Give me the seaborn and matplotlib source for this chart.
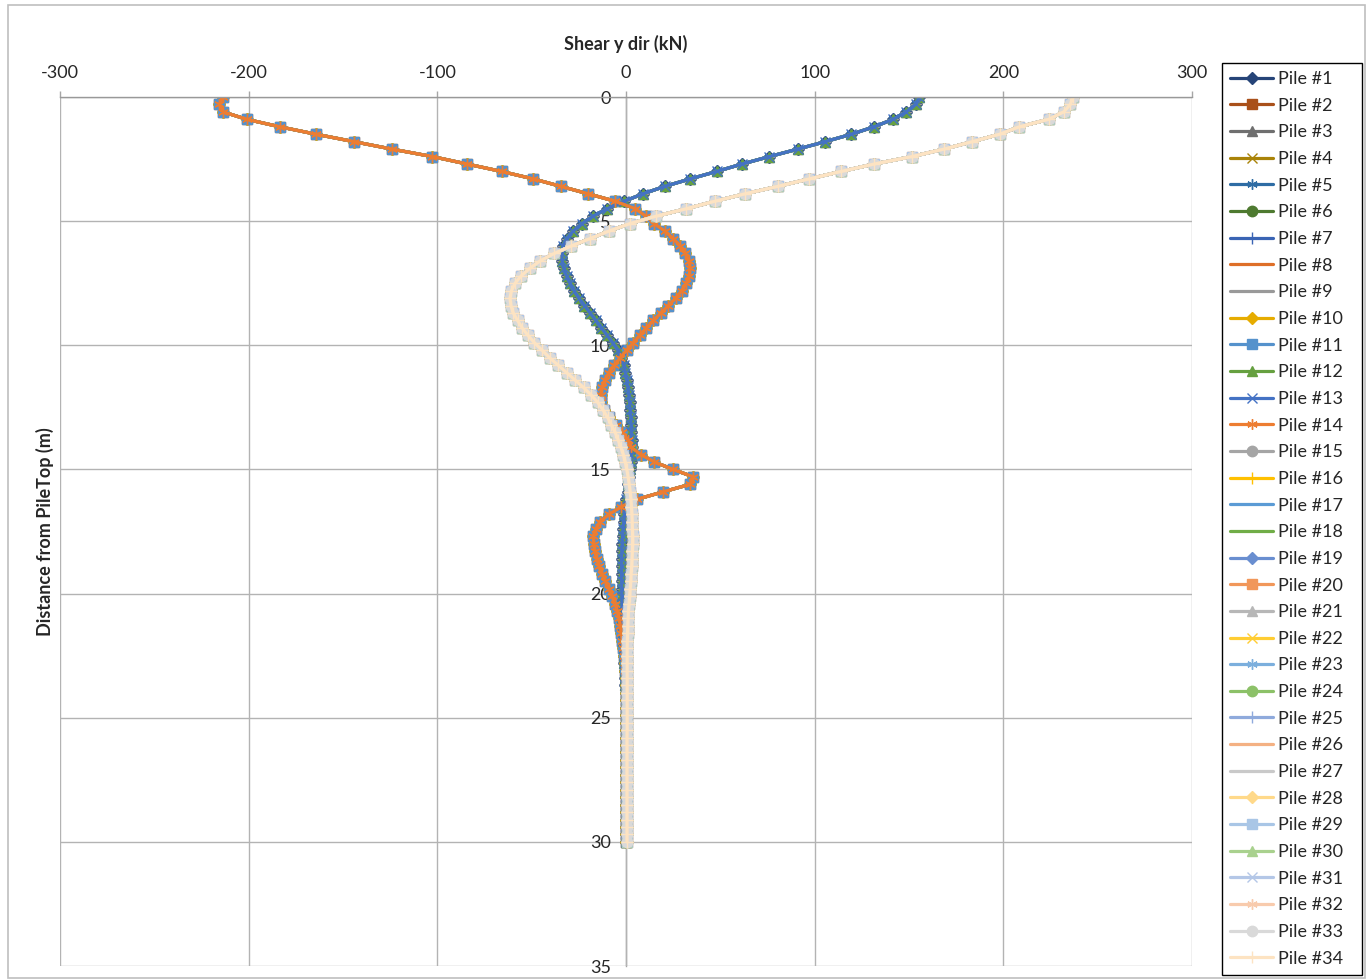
import matplotlib
matplotlib.use("Agg")
import matplotlib.pyplot as plt
from matplotlib.patches import Rectangle
import seaborn as sns

# ---------------- data ----------------
depth_m = [0.0, 0.3, 0.6, 0.9, 1.2, 1.5, 1.8, 2.1, 2.4, 2.7, 3.0, 3.3, 3.6, 3.9, 4.2, 4.5, 4.8,
           5.1, 5.4, 5.7, 6.0, 6.3, 6.6, 6.9, 7.2, 7.5, 7.8, 8.1, 8.4, 8.7, 9.0, 9.3, 9.6, 9.9,
           10.2, 10.5, 10.8, 11.1, 11.4, 11.7, 12.0, 12.3, 12.6, 12.9, 13.2, 13.5, 13.8, 14.1,
           14.4, 14.7, 15.0, 15.3, 15.6, 15.9, 16.2, 16.5, 16.8, 17.1, 17.4, 17.7, 18.0, 18.3,
           18.6, 18.9, 19.2, 19.5, 19.8, 20.1, 20.4, 20.7, 21.0, 21.3, 21.6, 21.9, 22.2, 22.5,
           22.8, 23.1, 23.4, 23.7, 24.0, 24.3, 24.6, 24.9, 25.2, 25.5, 25.8, 26.1, 26.4, 26.7,
           27.0, 27.3, 27.6, 27.9, 28.2, 28.5, 28.8, 29.1, 29.4, 29.7, 30.0]

shear_group_a = [155.5, 153.5, 148.5, 141.5, 131.5, 119.5, 105.5, 91.0, 76.0, 61.5, 48.0, 34.0,
                 20.5, 9.0, -1.0, -10.0, -17.5, -23.5, -28.0, -31.5, -33.5, -34.0, -33.8, -33.0,
                 -31.5, -29.7, -27.5, -25.0, -22.0, -19.0, -16.0, -13.0, -10.0, -7.0, -4.3, -2.5,
                 -1.2, -0.3, 0.4, 1.0, 1.5, 1.9, 2.2, 2.5, 2.7, 2.9, 3.0, 3.0, 2.8, 2.5, 2.2, 1.8,
                 1.3, 0.8, 0.2, -0.3, -0.8, -1.2, -1.5, -1.8, -2.0, -2.2, -2.3, -2.3, -2.3, -2.3,
                 -2.2, -2.2, -2.1, -2.0, -1.9, -1.8, -1.6, -1.4, -1.2, -1.0, -0.8, -0.6, -0.4, -0.3,
                 -0.2, -0.1, 0.0, 0.0, 0.0, 0.0, 0.0, 0.0, 0.0, 0.0, 0.0, 0.0, 0.0, 0.0, 0.0, 0.0,
                 0.0, 0.0, 0.0, 0.0, 0.0]

shear_group_b = [-213.5, -215.5, -213.5, -201.0, -183.5, -164.3, -144.1, -124.0, -102.6, -84.2,
                 -65.9, -49.1, -34.5, -20.0, -5.7, 5.0, 10.5, 15.0, 20.5, 25.0, 28.8, 31.5, 33.3,
                 33.9, 33.4, 32.0, 29.5, 26.3, 22.5, 18.5, 14.5, 10.8, 7.3, 3.8, 0.3, -3.0, -6.2,
                 -9.0, -11.2, -12.8, -13.5, -13.2, -11.5, -9.0, -5.5, -2.0, 1.0, 2.5, 8.0, 15.0,
                 25.0, 35.7, 34.0, 19.8, 6.0, -2.5, -8.8, -13.8, -16.0, -17.3, -17.2, -16.6, -15.5,
                 -14.3, -12.8, -10.9, -9.0, -7.4, -5.8, -4.6, -3.7, -3.0, -2.4, -1.9, -1.4, -1.0,
                 -0.7, -0.4, -0.2, 0.0, 0.0, 0.0, 0.0, 0.0, 0.0, 0.0, 0.0, 0.0, 0.0, 0.0, 0.0, 0.0,
                 0.0, 0.0, 0.0, 0.0, 0.0, 0.0, 0.0, 0.0, 0.0]

shear_group_c = [237.0, 235.5, 232.0, 224.0, 208.5, 198.0, 183.5, 168.5, 151.5, 131.5, 114.0,
                 97.0, 80.5, 63.0, 47.0, 32.0, 16.0, 2.0, -9.0, -19.0, -29.0, -38.0, -45.5, -51.0,
                 -55.5, -58.8, -60.7, -61.5, -61.0, -59.7, -57.5, -55.0, -52.0, -48.5, -44.5, -40.5,
                 -36.0, -31.5, -27.0, -22.5, -18.5, -15.0, -12.2, -9.8, -7.8, -5.8, -4.2, -2.8,
                 -1.4, -0.4, 0.4, 1.1, 1.7, 2.2, 2.6, 2.9, 3.1, 3.3, 3.4, 3.5, 3.5, 3.4, 3.2, 3.0,
                 2.7, 2.5, 2.2, 1.9, 1.6, 1.3, 1.1, 0.9, 0.8, 0.7, 0.6, 0.6, 0.6, 0.6, 0.6, 0.6,
                 0.6, 0.6, 0.6, 0.6, 0.6, 0.6, 0.5, 0.5, 0.5, 0.5, 0.5, 0.5, 0.5, 0.5, 0.5, 0.5,
                 0.5, 0.5, 0.5, 0.5, 0.5]

pile_labels = [f"Pile #{i}" for i in range(1, 35)]
pile_group = ["A", "B", "A", "B", "A", "B", "A", "B", "A", "B", "B", "A", "A", "B"] + ["C"] * 20

x_ticks = [-300, -200, -100, 0, 100, 200, 300]
y_ticks = [0, 5, 10, 15, 20, 25, 30, 35]

# ---------------- styles ----------------
pile_colors = ["#264478", "#A9501A", "#6F6F6F", "#A98308", "#2E6CA4", "#4E7A30",
               "#3A64B4", "#DE6F28", "#999999", "#E6AC00", "#5592CC", "#66A040",
               "#4472C4", "#ED7D31", "#A5A5A5", "#FFC000", "#5B9BD5", "#70AD47",
               "#698ED0", "#F1975A", "#B7B7B7", "#FFCD33", "#7CAFDD", "#8CC168",
               "#8FAADC", "#F4B183", "#C9C9C9", "#FFD98A", "#A9C6E6", "#A9D18E",
               "#B4C7E7", "#F8CBAD", "#D9D9D9", "#FDE3C2"]
marker_cycle = ["D", "s", "^", "x", (6, 2, 0), "o", "+", "_", "_"]
marker_sizes = [6.0, 7.5, 7, 7, 7.5, 7.5, 8, 6, 9]

sns.set_style("white")
plt.rcParams["font.family"] = ["Lato", "DejaVu Sans"]
FS = 13

W, H = 1367, 980
fig = plt.figure(figsize=(W / 100, H / 100), dpi=100)
ax = fig.add_axes([60 / W, 1 - 966 / H, (1192 - 60) / W, (966 - 97) / H])

groups = {"A": shear_group_a, "B": shear_group_b, "C": shear_group_c}
for i in range(34):
    vals = groups[pile_group[i]]
    m = marker_cycle[i % 9]
    ms = marker_sizes[i % 9]
    sns.lineplot(x=vals, y=depth_m, orient="y", sort=False, estimator=None,
                 color=pile_colors[i], marker=m, markersize=ms,
                 markeredgecolor=pile_colors[i], markeredgewidth=1.0,
                 linewidth=2.3, label=pile_labels[i], ax=ax)

leg0 = ax.get_legend()
if leg0 is not None:
    leg0.remove()

ax.set_xlim(-300, 300)
ax.set_ylim(35, 0)
ax.set_xticks(x_ticks)
ax.set_yticks(y_ticks)
ax.set_xticklabels([str(v) for v in x_ticks])
ax.set_yticklabels([str(v) for v in y_ticks])

grid_c = "#B3B3B3"
ax.grid(True, color=grid_c, linewidth=1.0)
ax.set_axisbelow(True)

ax.xaxis.tick_top()
ax.xaxis.set_label_position("top")
ax.tick_params(axis="x", which="both", direction="out", length=4.5, width=1, color="#A6A6A6",
               labelsize=FS, pad=7, top=True, bottom=False, labeltop=True, labelbottom=False)
ax.tick_params(axis="y", length=0, labelsize=FS, pad=11)

for s in ["right", "bottom"]:
    ax.spines[s].set_visible(False)
ax.spines["top"].set_color("#999999")
ax.spines["top"].set_linewidth(1.0)
ax.spines["left"].set_position(("data", 0))
ax.spines["left"].set_color("#A6A6A6")
ax.spines["left"].set_linewidth(1.0)
ax.spines["left"].set_zorder(0.5)

ax.set_xlabel("Shear y dir (kN)", fontsize=FS, fontweight="bold", labelpad=11)
ax.set_ylabel("Distance from PileTop (m)", fontsize=FS, fontweight="bold")
ax.yaxis.set_label_coords((54 - 60) / (1192 - 60), 0.5)

handles, labels = ax.get_legend_handles_labels()
leg = fig.legend(handles, labels, loc="upper left",
                 bbox_to_anchor=(1222 / W, 1 - 970 / H, 140 / W, 907 / H), mode="expand",
                 bbox_transform=fig.transFigure, borderaxespad=0, fontsize=FS,
                 frameon=True, fancybox=False, edgecolor="black", framealpha=1,
                 handlelength=2.4, handletextpad=0.25, labelspacing=0.59, borderpad=0.45)
leg.get_frame().set_linewidth(1.0)

fig.patches.append(Rectangle((8 / W, 1 - 978 / H), 1357 / W, 973 / H, transform=fig.transFigure,
                             fill=False, edgecolor="#BFBFBF", linewidth=1.2))

fig.savefig("out.png", dpi=100)
